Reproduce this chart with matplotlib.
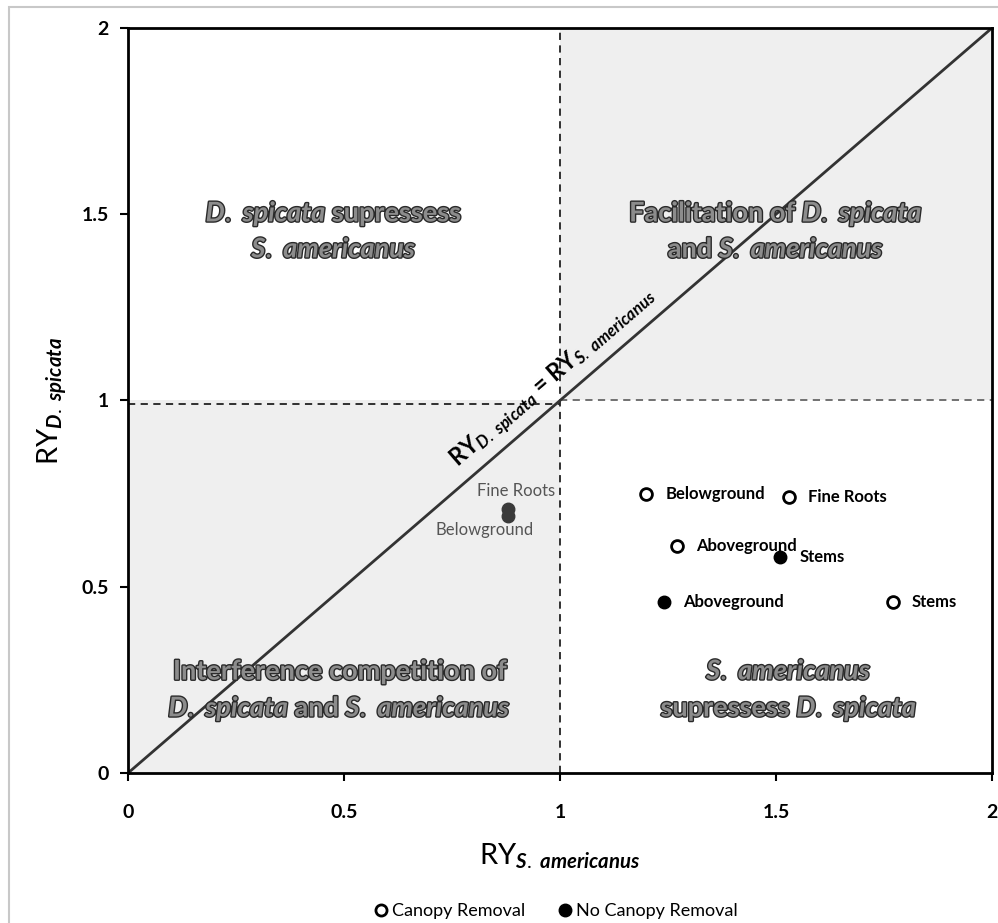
import matplotlib.pyplot as plt
import matplotlib.patheffects as pe
from matplotlib.lines import Line2D
from matplotlib.patches import Rectangle

plt.rcParams['font.family'] = ['Lato', 'DejaVu Sans']
plt.rcParams['mathtext.fontset'] = 'custom'
plt.rcParams['mathtext.rm'] = 'Lato'
plt.rcParams['mathtext.it'] = 'Lato:italic:bold'
plt.rcParams['mathtext.bf'] = 'Lato:bold'

# relative yield points, by treatment
canopyX = [1.20, 1.53, 1.27, 1.77]
canopyY = [0.75, 0.74, 0.61, 0.46]
canopyLabels = ["Belowground", "Fine Roots", "Aboveground", "Stems"]

noCanopyX = [1.51, 1.24]
noCanopyY = [0.58, 0.46]
noCanopyLabels = ["Stems", "Aboveground"]

# the two overlapping points in the lower-left quadrant
overlapX = [0.88, 0.88]
overlapY = [0.71, 0.69]
overlapLabels = ["Fine Roots", "Belowground"]

ticks = [0, 0.5, 1, 1.5, 2]
tickLabels = ["0", "0.5", "1", "1.5", "2"]

fig = plt.figure(figsize=(9.98, 9.23), dpi=100)
fig.patches.append(Rectangle((0.009, -0.1), 1.2, 1.0924, transform=fig.transFigure,
                             fill=False, edgecolor="#c8c8c8", lw=1.5))
ax = fig.add_axes([0.1283, 0.1625, 0.8657, 0.8072])

ax.set_xlim(0, 2)
ax.set_ylim(0, 2)

# shaded quadrants
ax.add_patch(Rectangle((0, 0), 1, 1, facecolor="#efefef", edgecolor="none", zorder=0))
ax.add_patch(Rectangle((1, 1), 1, 1, facecolor="#efefef", edgecolor="none", zorder=0))

ax.axvline(1, color="#222222", ls=(0, (4, 3)), lw=1.3, zorder=1)
ax.plot([0, 1], [0.99, 0.99], color="#222222", ls=(0, (4, 3)), lw=1.3, zorder=1)
ax.plot([1, 2], [1.0, 1.0], color="#666666", ls=(0, (4, 3)), lw=1.3, zorder=1)
ax.plot([0, 2], [0, 2], color="#333333", lw=2, zorder=2)

for s in ax.spines.values():
    s.set_linewidth(2)
    s.set_color("black")

ax.set_xticks(ticks)
ax.set_xticklabels(tickLabels)
ax.set_yticks(ticks)
ax.set_yticklabels(tickLabels)
ax.tick_params(direction="out", length=6, width=1.5, labelsize=14)
ax.tick_params(axis="x", pad=16)
ax.tick_params(axis="y", pad=8)
for lbl in ax.get_xticklabels() + ax.get_yticklabels():
    lbl.set_fontweight("bold")

ax.set_xlabel(r"RY$_{S.\ americanus}$", fontsize=21, labelpad=15)
ax.set_ylabel(r"RY$_{D.\ spicata}$", fontsize=21, labelpad=9)

# quadrant captions in outlined text
outline = [pe.withStroke(linewidth=2.0, foreground="#2a2a2a")]
capStyle = dict(fontsize=19.5, fontweight="bold", color="#8c8c8c", ha="center",
                va="center", path_effects=outline, linespacing=1.5, zorder=3)
ax.text(0.477, 1.456, r"$\mathit{D.\ spicata}$ supressess" + "\n" + r"$\mathit{S.\ americanus}$",
        **capStyle)
ax.text(1.5, 1.456, r"Facilitation of $\mathit{D.\ spicata}$" + "\n" + r"and $\mathit{S.\ americanus}$",
        **capStyle)
ax.text(0.49, 0.22, "Interference competition of" + "\n" + r"$\mathit{D.\ spicata}$ and $\mathit{S.\ americanus}$",
        **capStyle)
ax.text(1.53, 0.22, r"$\mathit{S.\ americanus}$" + "\n" + r"supressess $\mathit{D.\ spicata}$",
        **capStyle)

# 1:1 line caption
ax.text(0.985, 1.06, r"RY$_{D.\ spicata}$ = RY$_{S.\ americanus}$", fontsize=17,
        fontweight="bold", rotation=40.8, rotation_mode="anchor", ha="center",
        va="center", transform_rotates_text=False, zorder=3)

ax.plot(canopyX, canopyY, "o", ms=8.5, mfc="white", mec="black", mew=2, zorder=4)
ax.plot(noCanopyX, noCanopyY, "o", ms=9, mfc="black", mec="black", zorder=4)
ax.plot(overlapX, overlapY, "o", ms=9, mfc="#3a3a3a", mec="#3a3a3a", zorder=4)

for x, y, t in zip(canopyX, canopyY, canopyLabels):
    ax.annotate(t, (x, y), xytext=(14, 0), textcoords="offset points", va="center",
                fontsize=12, fontweight="bold")
for x, y, t in zip(noCanopyX, noCanopyY, noCanopyLabels):
    ax.annotate(t, (x, y), xytext=(14, 0), textcoords="offset points", va="center",
                fontsize=12, fontweight="bold")
ax.annotate(overlapLabels[0], (overlapX[0], overlapY[0]), xytext=(6, 7),
            textcoords="offset points", ha="center", va="bottom", fontsize=12, color="#555555")
ax.annotate(overlapLabels[1], (overlapX[1], overlapY[1]), xytext=(-17, -4),
            textcoords="offset points", ha="center", va="top", fontsize=12, color="#555555")

handles = [
    Line2D([], [], ls="none", marker="o", ms=8, mfc="white", mec="black", mew=2),
    Line2D([], [], ls="none", marker="o", ms=9, mfc="black", mec="black"),
]
fig.legend(handles, ["Canopy Removal", "No Canopy Removal"], loc="center",
           bbox_to_anchor=(0.555, 0.013), ncol=2, frameon=False, fontsize=13,
           handletextpad=0.0, columnspacing=1.6, handlelength=1.2)

fig.savefig("out.png", dpi=100)
